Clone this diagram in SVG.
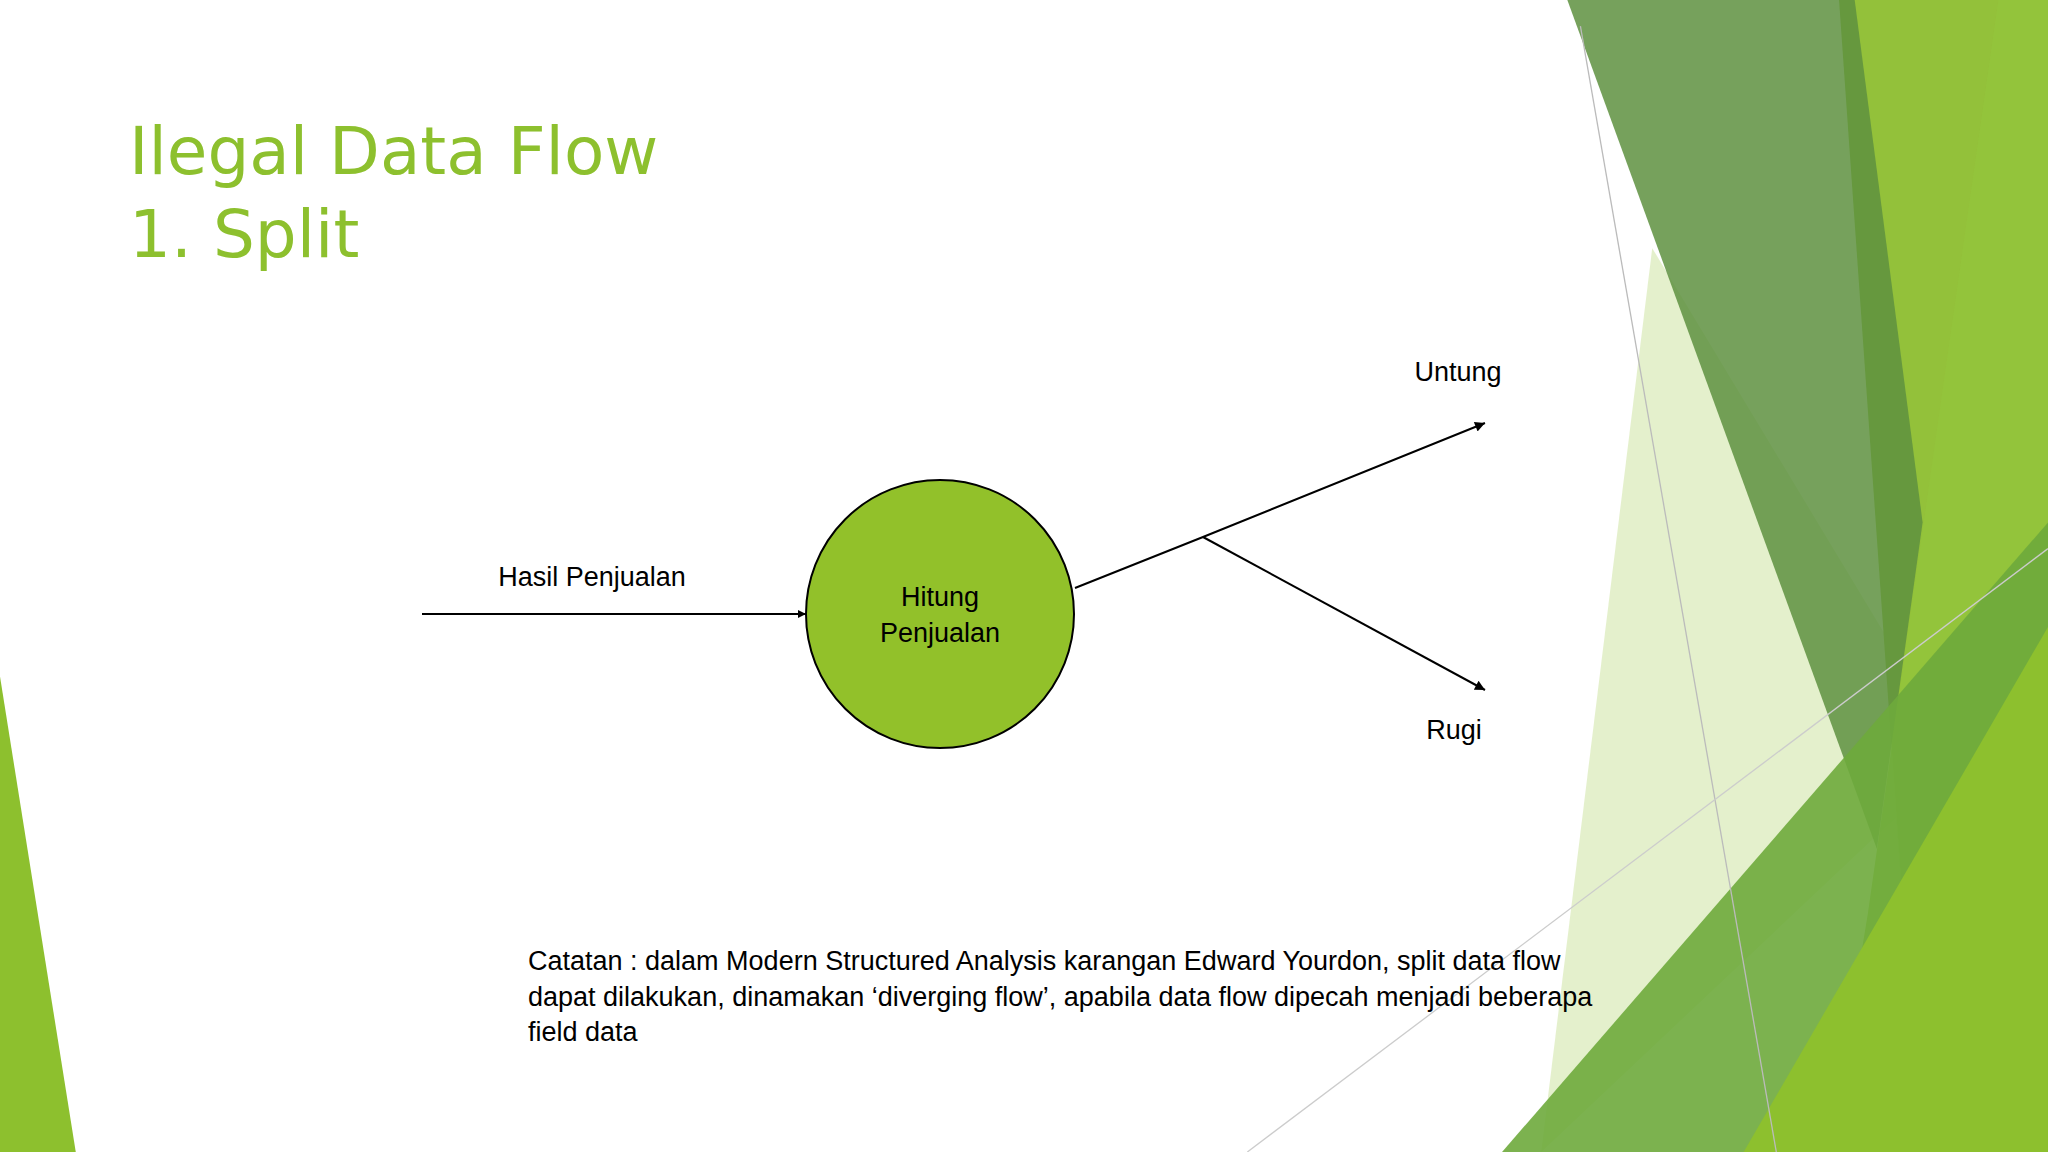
<svg xmlns="http://www.w3.org/2000/svg" width="2048" height="1152" viewBox="0 0 2048 1152">
<style>
.lbl{font-family:"Liberation Sans",Arial,sans-serif;font-size:27px;fill:#000}
.ttl{font-family:"DejaVu Sans","Open Sans",sans-serif;font-size:66px;fill:#8DC02E}
.ln{stroke:#000;stroke-width:2;fill:none}
</style>
<defs>
<marker id="ah" viewBox="0 0 10 10" refX="10" refY="5" markerWidth="8" markerHeight="8" orient="auto" markerUnits="userSpaceOnUse"><path d="M0,0 L10,5 L0,10 z" fill="#000"/></marker>
<marker id="ah2" viewBox="0 0 10 10" refX="10" refY="5" markerWidth="14" markerHeight="10" orient="auto" markerUnits="userSpaceOnUse"><path d="M0,0 L10,5 L0,10 z" fill="#000"/></marker>
</defs>
<rect width="2048" height="1152" fill="#fff"/>
<g id="background" transform="scale(1.30612)">
<polygon points="0,518 58,882 0,882" fill="#8DC02E"/>
<polygon points="1265,190 1500,580 1180,882" fill="#C9E29A" opacity="0.5"/>
<polygon points="1408,0 1568,0 1568,882 1470,882" fill="#8DBE2F" opacity="0.95"/>
<polygon points="1530,0 1568,0 1568,882 1400,882 1430,700" fill="#94C43C" opacity="0.9"/>
<polygon points="1200,0 1420,0 1472,400 1437,650" fill="#5E9140" opacity="0.85"/>
<polygon points="1150,882 1568,400 1568,882" fill="#6EAA3C" opacity="0.9"/>
<polygon points="1335,882 1568,480 1568,882" fill="#8DC02E"/>
<line x1="1210" y1="20" x2="1360" y2="882" stroke="#bbb" stroke-width="1"/>
<line x1="955" y1="882" x2="1568" y2="420" stroke="#ccc" stroke-width="1"/>
</g>
<g id="title">
<text class="ttl" x="129" y="174">Ilegal Data Flow</text>
<text class="ttl" x="129" y="257">1. Split</text>
</g>
<g id="process">
<circle cx="940" cy="614" r="134" fill="#92C12A" stroke="#000" stroke-width="2"/>
<text class="lbl" x="940" y="606" text-anchor="middle">Hitung</text>
<text class="lbl" x="940" y="642" text-anchor="middle">Penjualan</text>
</g>
<g id="connectors">
<line class="ln" x1="422" y1="614" x2="806" y2="614" marker-end="url(#ah)"/>
<polyline class="ln" points="1075,588 1203,537 1485,423" marker-end="url(#ah2)"/>
<line class="ln" x1="1203" y1="537" x2="1485" y2="690" marker-end="url(#ah2)"/>
</g>
<g id="labels">
<text class="lbl" x="592" y="586" text-anchor="middle">Hasil Penjualan</text>
<text class="lbl" x="1458" y="381" text-anchor="middle">Untung</text>
<text class="lbl" x="1454" y="739" text-anchor="middle">Rugi</text>
</g>
<g id="note">
<text class="lbl" x="528" y="970">Catatan : dalam Modern Structured Analysis karangan Edward Yourdon, split data flow</text>
<text class="lbl" x="528" y="1006">dapat dilakukan, dinamakan ‘diverging flow’, apabila data flow dipecah menjadi beberapa</text>
<text class="lbl" x="528" y="1041">field data</text>
</g>
</svg>
